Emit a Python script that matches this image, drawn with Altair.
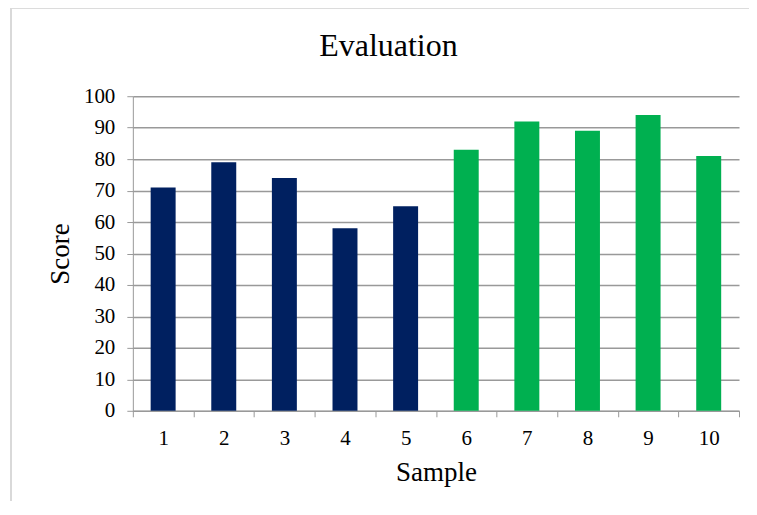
import altair as alt
import pandas as pd

samples = ["1", "2", "3", "4", "5", "6", "7", "8", "9", "10"]
scores = [71, 79, 74, 58, 65, 83, 92, 89, 94, 81]
groups = ["A", "A", "A", "A", "A", "B", "B", "B", "B", "B"]
group_colors = ["#002060", "#00B050"]
title_text = ["Evaluation"]

df = pd.DataFrame({"Sample": samples, "Score": scores, "Group": groups})

FONT = "'Times New Roman', 'Liberation Serif', 'DejaVu Serif', serif"

bars = alt.Chart(df).mark_bar(size=25).encode(
    x=alt.X("Sample:N", sort=samples,
            scale=alt.Scale(paddingInner=0, paddingOuter=0),
            axis=alt.Axis(title="Sample", labelAngle=0, tickBand="extent",
                          tickSize=6, tickColor="#999999", domainColor="#999999",
                          labelPadding=11, labelFontSize=21, titleFontSize=27,
                          titlePadding=11, grid=False, labelColor="#000000",
                          titleColor="#000000", titleFontWeight="normal",
                          labelFont=FONT, titleFont=FONT)),
    y=alt.Y("Score:Q", scale=alt.Scale(domain=[0, 100], nice=False),
            axis=alt.Axis(title="Score", values=list(range(0, 101, 10)),
                          tickSize=6, tickColor="#999999", domainColor="#999999",
                          gridColor="#999999", gridWidth=1.5, labelPadding=12,
                          labelFontSize=21, titleFontSize=27, titlePadding=9,
                          labelColor="#000000", titleColor="#000000",
                          titleFontWeight="normal", labelFont=FONT, titleFont=FONT)),
    color=alt.Color("Group:N", scale=alt.Scale(domain=["A", "B"], range=group_colors),
                    legend=None),
)

border = alt.Chart(df).mark_rect(fill=None, stroke="#d9d9d9", strokeWidth=2).encode(
    x=alt.value(-122), x2=alt.value(640), y=alt.value(-89), y2=alt.value(440)
)

title = alt.Chart(pd.DataFrame({"t": title_text})).mark_text(
    font=FONT, fontSize=32, color="#000000", baseline="middle", align="center"
).encode(x=alt.value(256), y=alt.value(-50), text="t:N")

chart = alt.layer(border, bars, title).properties(
    width=607, height=315,
    autosize=alt.AutoSizeParams(type="none"),
    padding={"left": 125, "top": 88, "right": 10, "bottom": 90},
).configure(font=FONT).configure_view(stroke=None)

chart.save("out.html", embed_options={"renderer": "svg", "actions": False})
